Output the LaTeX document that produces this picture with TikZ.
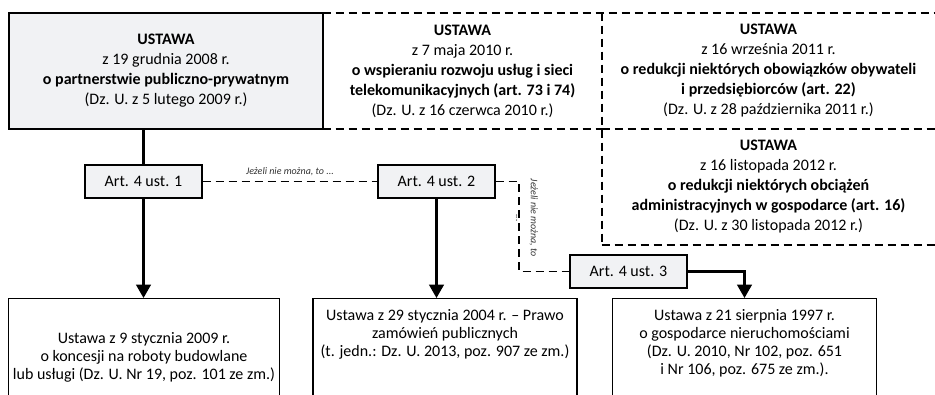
\documentclass[tikz,border=0pt]{standalone}
\usepackage{fontspec}
\setmainfont{Carlito}
\usetikzlibrary{arrows.meta}
\definecolor{boxgray}{RGB}{241,242,244}

\begin{document}
\begin{tikzpicture}[x=0.75pt,y=-0.75pt,>={Triangle[width=11pt,length=10pt]},
  every node/.style={font=\fontsize{12}{15}\selectfont, align=center},
  act/.style={draw,line width=2.2pt,fill=boxgray,minimum width=235.5pt,minimum height=87pt,inner sep=0pt},
  amend/.style={minimum height=87pt,inner sep=0pt},
  art/.style={draw,line width=1pt,fill=boxgray,minimum width=87.75pt,minimum height=24.75pt,inner sep=0pt},
  law/.style={draw,line width=1pt,anchor=north,minimum width=198pt,text depth=40pt,inner ysep=8pt,font=\fontsize{12}{13.5}\selectfont},
  dashline/.style={line width=1.4pt,dash pattern=on 6pt off 3.75pt},
  flow/.style={line width=1.6pt},
  note/.style={font=\fontsize{7.5}{11}\selectfont\itshape,text=black!80}]
\useasboundingbox (0,0) rectangle (935,395);
\clip (0,0) rectangle (935,395);
% main act and the acts that amend it
\node[act] (u1) at (166,71) {\textbf{USTAWA}\\z 19 grudnia 2008 r.\\\textbf{o partnerstwie publiczno-prywatnym}\\(Dz. U. z 5 lutego 2009 r.)};
\node[amend,minimum width=209.25pt] (u2) at (462.5,71) {\textbf{USTAWA}\\z 7 maja 2010 r.\\\textbf{o wspieraniu rozwoju usług i sieci}\\\textbf{telekomunikacyjnych (art. 73 i 74)}\\(Dz. U. z 16 czerwca 2010 r.)};
\node[amend,minimum width=249.75pt] (u3) at (768.5,71) {\textbf{USTAWA}\\z 16 września 2011 r.\\\textbf{o redukcji niektórych obowiązków obywateli}\\\textbf{i przedsiębiorców (art. 22)}\\(Dz. U. z 28 października 2011 r.)};
\node[amend,minimum width=249.75pt] (u4) at (768.5,187) {\textbf{USTAWA}\\z 16 listopada 2012 r.\\\textbf{o redukcji niektórych obciążeń}\\\textbf{administracyjnych w gospodarce (art. 16)}\\(Dz. U. z 30 listopada 2012 r.)};
\draw[dashline] (u2.north west) -- (u3.north east);
\draw[dashline] (u2.south west) -- (u2.south east);
\draw[dashline] (u3.north west) -- (u4.south west);
\draw[dashline] (u3.south west) -- (u3.south east);
\draw[dashline] (u4.south west) -- (u4.south east);
% articles
\node[art] (a1) at (143.5,181.5) {Art. 4 ust. 1};
\node[art] (a2) at (436.5,181.5) {Art. 4 ust. 2};
\node[art] (a3) at (628.5,271.5) {Art. 4 ust. 3};
% referred acts
\node[law,inner ysep=25pt] (b1) at (144,298) {Ustawa z 9 stycznia 2009 r.\\o koncesji na roboty budowlane\\lub usługi (Dz. U. Nr 19, poz. 101 ze zm.)};
\node[law] (b2) at (445,298) {Ustawa z 29 stycznia 2004 r. – Prawo\\zamówień publicznych\\(t. jedn.: Dz. U. 2013, poz. 907 ze zm.)};
\node[law] (b3) at (744.5,298) {Ustawa z 21 sierpnia 1997 r.\\o gospodarce nieruchomościami\\(Dz. U. 2010, Nr 102, poz. 651\\i Nr 106, poz. 675 ze zm.).};
\draw[flow] (a1.north) -- (a1.north |- u1.south);
\draw[flow,->] (a1.south) -- (a1.south |- b1.north);
\draw[flow,->] (a2.south) -- (a2.south |- b2.north);
\draw[flow,->] (a3.east) -| (b3.north);
\draw[dashline] (a1.east) -- (a2.west) node[note,midway,above=0pt] (n1) {Jeżeli nie można, to ...};
\draw[dashline] (a2.east) -- ++(23,0) |- (a3.west);
\node[note,rotate=-90] (n2) at (527,218) {Jeżeli nie można, to\\...};
\end{tikzpicture}
\end{document}
